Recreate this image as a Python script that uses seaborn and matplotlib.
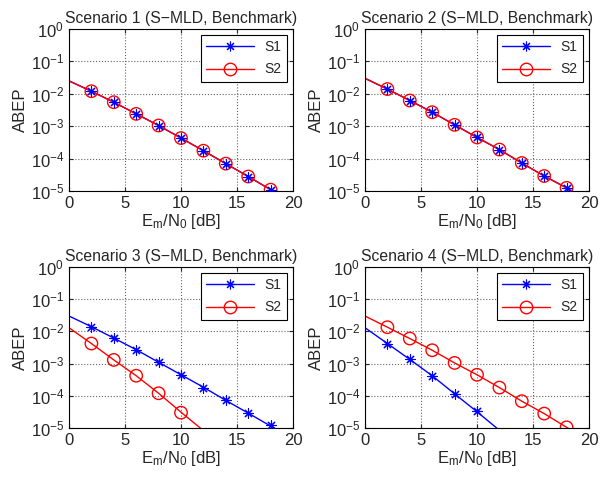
import numpy as np
import matplotlib
matplotlib.use("Agg")
import matplotlib.pyplot as plt
import seaborn as sns
from matplotlib.lines import Line2D
from matplotlib.ticker import LogLocator, LogFormatterMathtext, NullLocator

# x grids
theory_snr = [0, 2, 4, 6, 8, 10, 12, 14, 16, 18, 20]
sim_snr = [2, 4, 6, 8, 10, 12, 14, 16, 18]

# Scenario 1
sc1_s1_theory = [2.5e-2, 1.2e-2, 5.5e-3, 2.4e-3, 1.05e-3, 4.3e-4, 1.75e-4, 7.0e-5, 2.8e-5, 1.1e-5, 4.3e-6]
sc1_s1_sim = [1.2e-2, 5.5e-3, 2.4e-3, 1.05e-3, 4.3e-4, 1.75e-4, 7.0e-5, 2.8e-5, 1.1e-5]
sc1_s2_theory = [2.5e-2, 1.2e-2, 5.5e-3, 2.4e-3, 1.05e-3, 4.3e-4, 1.75e-4, 7.0e-5, 2.8e-5, 1.1e-5, 4.3e-6]
sc1_s2_sim = [1.2e-2, 5.5e-3, 2.4e-3, 1.05e-3, 4.3e-4, 1.75e-4, 7.0e-5, 2.8e-5, 1.1e-5]

# Scenario 2
sc2_s1_theory = [3.0e-2, 1.4e-2, 6.2e-3, 2.7e-3, 1.1e-3, 4.5e-4, 1.9e-4, 7.3e-5, 2.9e-5, 1.25e-5, 4.8e-6]
sc2_s1_sim = [1.4e-2, 6.2e-3, 2.7e-3, 1.1e-3, 4.5e-4, 1.9e-4, 7.3e-5, 2.9e-5, 1.25e-5]
sc2_s2_theory = [3.0e-2, 1.4e-2, 6.2e-3, 2.7e-3, 1.1e-3, 4.5e-4, 1.9e-4, 7.3e-5, 2.9e-5, 1.25e-5, 4.8e-6]
sc2_s2_sim = [1.4e-2, 6.2e-3, 2.7e-3, 1.1e-3, 4.5e-4, 1.9e-4, 7.3e-5, 2.9e-5, 1.25e-5]

# Scenario 3
sc3_s1_theory = [3.0e-2, 1.4e-2, 6.2e-3, 2.7e-3, 1.1e-3, 4.5e-4, 1.85e-4, 7.2e-5, 2.9e-5, 1.15e-5, 4.6e-6]
sc3_s1_sim = [1.4e-2, 6.2e-3, 2.6e-3, 1.1e-3, 4.4e-4, 1.8e-4, 7.2e-5, 2.9e-5, 1.2e-5]
sc3_s2_theory = [1.3e-2, 4.2e-3, 1.3e-3, 4.2e-4, 1.2e-4, 3.1e-5, 8.3e-6, 2.2e-6, 5.8e-7, 1.5e-7, 3.8e-8]
sc3_s2_sim = [4.2e-3, 1.3e-3, 4.2e-4, 1.2e-4, 3.0e-5]

# Scenario 4
sc4_s1_theory = [1.3e-2, 4.2e-3, 1.35e-3, 4.2e-4, 1.15e-4, 3.2e-5, 8.5e-6, 2.2e-6, 5.8e-7, 1.5e-7, 3.8e-8]
sc4_s1_sim = [4.2e-3, 1.35e-3, 4.2e-4, 1.15e-4, 3.3e-5]
sc4_s2_theory = [3.0e-2, 1.35e-2, 6.0e-3, 2.6e-3, 1.05e-3, 4.5e-4, 1.8e-4, 6.8e-5, 2.8e-5, 1.05e-5, 4.2e-6]
sc4_s2_sim = [1.35e-2, 6.0e-3, 2.6e-3, 1.05e-3, 4.5e-4, 1.8e-4, 6.8e-5, 2.8e-5, 1.05e-5]

titles = ["Scenario 1 (S\u2212MLD, Benchmark)", "Scenario 2 (S\u2212MLD, Benchmark)",
          "Scenario 3 (S\u2212MLD, Benchmark)", "Scenario 4 (S\u2212MLD, Benchmark)"]
panels = [
    (sc1_s1_theory, sc1_s1_sim, sc1_s2_theory, sc1_s2_sim),
    (sc2_s1_theory, sc2_s1_sim, sc2_s2_theory, sc2_s2_sim),
    (sc3_s1_theory, sc3_s1_sim, sc3_s2_theory, sc3_s2_sim),
    (sc4_s1_theory, sc4_s1_sim, sc4_s2_theory, sc4_s2_sim),
]

sns.set_style("ticks")
plt.rcParams["font.family"] = ["Liberation Sans", "DejaVu Sans"]
plt.rcParams["mathtext.fontset"] = "custom"
plt.rcParams["mathtext.rm"] = "Liberation Sans"
plt.rcParams["mathtext.it"] = "Liberation Sans"
plt.rcParams["mathtext.default"] = "regular"
plt.rcParams["font.size"] = 10

W, H = 614, 479
fig = plt.figure(figsize=(W / 100, H / 100), dpi=100)
# axes boxes in pixel coords: (left, top, right, bottom)
boxes = [(69, 29, 293, 191), (365, 29, 589, 191),
         (69, 267, 293, 428), (365, 267, 589, 428)]

star = (8, 2, 0)  # MATLAB-like asterisk

for (l, t, r, b), title, (s1_th, s1_sim, s2_th, s2_sim) in zip(boxes, titles, panels):
    ax = fig.add_axes([l / W, 1 - b / H, (r - l) / W, (b - t) / H])
    ax.set_yscale("log")
    sns.lineplot(x=theory_snr, y=s1_th, ax=ax, color="blue", lw=1, linestyle="-")
    sns.lineplot(x=theory_snr, y=s2_th, ax=ax, color="red", lw=1, linestyle="-")
    sns.scatterplot(x=sim_snr[:len(s2_sim)], y=s2_sim, ax=ax, marker="o", s=80,
                    facecolor="none", edgecolor="red", linewidth=1, zorder=3)
    sns.scatterplot(x=sim_snr[:len(s1_sim)], y=s1_sim, ax=ax, marker=star, s=45,
                    color="blue", linewidth=0.8, zorder=4)
    ax.set_xlim(0, 20)
    ax.set_ylim(1e-5, 1)
    ax.set_xticks([0, 5, 10, 15, 20])
    ax.yaxis.set_major_locator(LogLocator(base=10, numticks=10))
    ax.yaxis.set_major_formatter(LogFormatterMathtext())
    ax.yaxis.set_minor_locator(NullLocator())
    ax.grid(True, which="major", linestyle=":", color="0.4", lw=0.8)
    ax.tick_params(direction="in", top=True, right=True, labelsize=12, length=3)
    for sp in ax.spines.values():
        sp.set_visible(True)
        sp.set_color("black")
        sp.set_linewidth(0.8)
    ax.set_title(title, fontsize=11.3, pad=4)
    ax.set_ylabel("ABEP", fontsize=12, labelpad=2)
    ax.set_xlabel(r"E$_m$/N$_0$ [dB]", fontsize=12, labelpad=1)
    handles = [
        Line2D([], [], color="blue", lw=1, marker=star, markersize=7, markeredgewidth=0.8),
        Line2D([], [], color="red", lw=1, marker="o", markersize=9,
               markerfacecolor="none", markeredgewidth=1),
    ]
    leg = ax.legend(handles, ["S1", "S2"], loc="upper right", fontsize=10,
                    handlelength=3.4, fancybox=False, framealpha=1,
                    edgecolor="black", borderaxespad=0.4, labelspacing=0.6)
    leg.get_frame().set_linewidth(0.8)

fig.savefig("out.png", dpi=100)
